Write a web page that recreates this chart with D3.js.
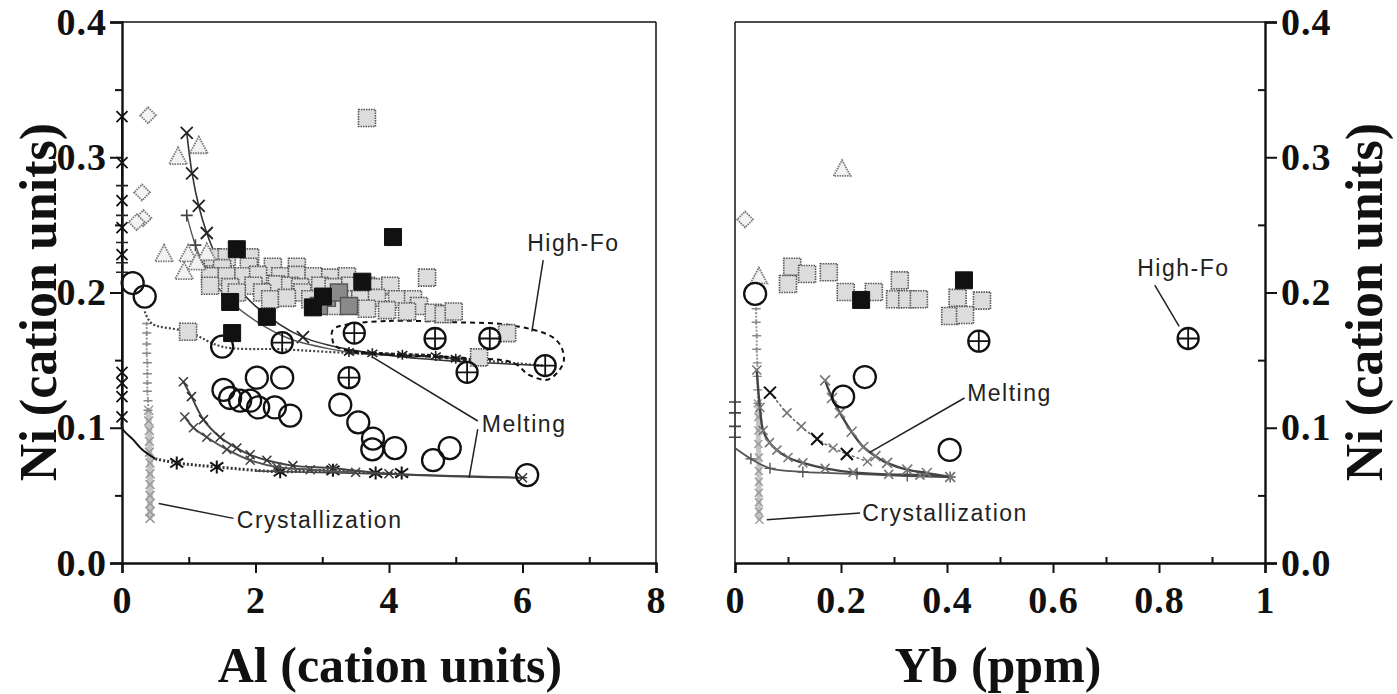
<!DOCTYPE html>
<html>
<head>
<meta charset="utf-8">
<script src="https://cdn.jsdelivr.net/npm/d3@7"></script>
<style>
  body { margin: 0; background: #fff; }
  .tick text { font-family: "Liberation Serif", "Times New Roman", serif; font-weight: bold; font-size: 38px; letter-spacing: 1px; fill: #111; }
  .title { font-family: "Liberation Serif", "Times New Roman", serif; font-weight: bold; font-size: 50px; fill: #111; }
  .ytitle { font-size: 52px; }
  .note { font-family: "Liberation Sans", Arial, sans-serif; font-size: 23px; letter-spacing: 1.5px; fill: #222; }
</style>
</head>
<body>
<script>
// ticks
var alTicks = [0, 2, 4, 6, 8];
var alMinor = [1, 3, 5, 7];
var ybTicks = [0, 0.2, 0.4, 0.6, 0.8, 1];
var ybMinor = [0.1, 0.3, 0.5, 0.7, 0.9];
var niTicks = [0, 0.1, 0.2, 0.3, 0.4];
var niMinor = [0.05, 0.15, 0.25, 0.35];

// ---- left panel: Ni vs Al ----
var leftGraySq = [
  [1.36,0.226],[1.57,0.226],[1.92,0.226],
  [1.50,0.218],[1.90,0.219],[2.26,0.219],[2.62,0.219],
  [1.32,0.212],[1.57,0.212],[1.82,0.212],[2.04,0.213],[2.37,0.212],[2.62,0.213],[2.87,0.212],[3.12,0.211],[3.37,0.212],
  [1.32,0.205],[1.62,0.204],[1.97,0.205],[2.32,0.206],[2.52,0.205],[2.67,0.204],[2.97,0.205],[3.17,0.204],[3.42,0.205],[3.67,0.205],[3.82,0.204],[4.02,0.205],
  [1.72,0.200],[2.10,0.200],[2.70,0.200],
  [2.22,0.195],[2.47,0.196],[2.82,0.195],[3.32,0.195],[3.57,0.195],[3.82,0.196],[4.12,0.195],[4.36,0.195],
  [3.20,0.190],[4.45,0.190],[3.67,0.188],[3.97,0.187],[4.27,0.186],[4.67,0.185],[4.82,0.184],[4.97,0.186],
  [3.67,0.329],[4.57,0.211],[0.99,0.171],[5.77,0.170],[5.35,0.152]
];
var leftDarkSq = [[3.07,0.196],[3.25,0.200],[3.40,0.190],[2.95,0.190]];
var leftBlackSq = [[1.72,0.232],[1.62,0.193],[2.17,0.182],[1.65,0.170],[2.86,0.189],[3.01,0.197],[3.60,0.208],[4.06,0.241]];
var leftTriangles = [[0.84,0.300],[1.15,0.308],[0.63,0.228],[0.99,0.228],[1.27,0.229],[0.93,0.215],[1.12,0.222]];
var leftDiamonds = [[0.39,0.331],[0.30,0.274],[0.32,0.255],[0.22,0.252]];
var leftCircles = [
  [0.16,0.207],[0.34,0.197],[1.50,0.160],
  [1.52,0.128],[1.62,0.122],[1.77,0.120],[1.92,0.120],[2.02,0.137],[2.40,0.137],
  [2.04,0.115],[2.29,0.115],[2.52,0.109],[3.27,0.117],[3.54,0.104],[3.76,0.092],
  [3.75,0.084],[4.09,0.085],[4.66,0.076],[4.91,0.085],[6.07,0.065]
];
var leftHighFo = [[2.40,0.163],[3.48,0.170],[4.69,0.166],[5.51,0.166],[3.40,0.137],[5.17,0.141],[6.34,0.146]];

// model curves (left)
var leftAxisMelt = [[0,0.330],[0,0.296],[0,0.268],[0,0.248],[0,0.228],[0,0.141],[0,0.133],[0,0.123],[0,0.108],[0,0.100],[0.17,0.091],[0.31,0.0835],[0.50,0.077]];
var leftAxisPlus = [[0,0.279],[0,0.257],[0,0.237],[0,0.222],[0,0.215]];
var leftBaseStars = [[0.50,0.077],[0.82,0.074],[1.42,0.071],[2.37,0.0675],[3.16,0.0685],[3.80,0.0665],[4.19,0.0665]];
var leftBaseSolid = [[2.00,0.068],[4.19,0.0655],[6.07,0.063]];
var leftUpperMelt = [[0.97,0.318],[1.05,0.288],[1.15,0.264],[1.27,0.244],[1.40,0.228],[1.60,0.212],[2.00,0.190],[2.71,0.167],[3.50,0.157],[4.50,0.151],[6.30,0.146]];
var leftUpperPlus = [[0.97,0.257],[1.10,0.235],[1.25,0.218],[1.50,0.200],[1.80,0.186],[2.50,0.166],[3.50,0.155]];
var leftLowMelt1 = [[0.92,0.134],[1.04,0.123],[1.22,0.106],[1.47,0.093],[1.72,0.085],[1.92,0.080],[2.17,0.076],[2.56,0.072],[3.16,0.070],[4.00,0.066],[6.00,0.063]];
var leftLowMelt2 = [[0.94,0.108],[1.07,0.100],[1.27,0.093],[1.57,0.084],[1.92,0.076],[2.32,0.071],[2.82,0.069],[3.50,0.067]];
var leftCrystA = [[0.37,0.177],[0.37,0.170],[0.37,0.162],[0.37,0.155],[0.38,0.148],[0.38,0.140],[0.38,0.133],[0.38,0.127],[0.39,0.120],[0.39,0.113]];
var leftCrystB = [[0.40,0.113],[0.40,0.105],[0.41,0.098],[0.41,0.090],[0.41,0.082],[0.42,0.074],[0.42,0.066],[0.42,0.058],[0.42,0.050],[0.42,0.044],[0.42,0.038],[0.42,0.033]];
var leftHighFoTrend = [[0.34,0.186],[0.45,0.177],[0.99,0.171],[1.50,0.160],[2.40,0.158],[3.50,0.155],[4.50,0.153],[6.30,0.146]];
var leftHeavyStars = [[3.40,0.156],[3.75,0.155],[4.20,0.154],[4.70,0.153],[5.00,0.151],[5.30,0.150]];
var leftEnvelope = [[3.25,0.175],[4.00,0.179],[5.00,0.178],[5.80,0.176],[6.45,0.167],[6.62,0.150],[6.40,0.136],[6.10,0.139],[5.80,0.149],[5.00,0.152],[4.00,0.154],[3.30,0.158],[3.15,0.166]];

// ---- right panel: Ni vs Yb ----
var rightGraySq = [[0.108,0.219],[0.136,0.2137],[0.100,0.2063],[0.177,0.215],[0.209,0.2004],[0.262,0.2004],[0.311,0.209],[0.302,0.195],[0.325,0.195],[0.347,0.195],[0.420,0.196],[0.466,0.194],[0.406,0.1826],[0.434,0.1834]];
var rightBlackSq = [[0.238,0.1945],[0.432,0.209]];
var rightTriangles = [[0.202,0.291],[0.045,0.2115]];
var rightDiamonds = [[0.019,0.254]];
var rightCircles = [[0.038,0.199],[0.245,0.1375],[0.204,0.123],[0.405,0.0836]];
var rightHighFo = [[0.46,0.164],[0.855,0.166]];
var rightAxisPlus = [[0,0.119],[0,0.111],[0,0.101],[0,0.093]];
var rightCrystA = [[0.040,0.188],[0.040,0.178],[0.041,0.168],[0.041,0.158],[0.042,0.148],[0.042,0.138],[0.043,0.128],[0.043,0.118]];
var rightCrystB = [[0.043,0.118],[0.044,0.108],[0.044,0.098],[0.044,0.088],[0.045,0.078],[0.045,0.068],[0.045,0.060],[0.045,0.052],[0.045,0.045],[0.045,0.038],[0.046,0.032]];
var rightMelt1 = [[0,0.085],[0.030,0.077],[0.066,0.070],[0.128,0.0673],[0.230,0.0658],[0.325,0.0643],[0.406,0.0636]];
var rightMelt2 = [[0.041,0.1427],[0.047,0.115],[0.053,0.098],[0.065,0.089],[0.079,0.0835],[0.100,0.078],[0.128,0.074],[0.170,0.070],[0.223,0.067],[0.290,0.0655],[0.349,0.065],[0.406,0.0636]];
var rightMelt3 = [[0.066,0.126],[0.098,0.111],[0.125,0.101],[0.155,0.0917],[0.185,0.085],[0.211,0.0806],[0.250,0.075]];
var rightMelt3Big = [[0.066,0.126],[0.155,0.0917],[0.211,0.0806]];
var rightMelt4 = [[0.170,0.135],[0.183,0.122],[0.198,0.111],[0.220,0.097],[0.242,0.0858],[0.265,0.079],[0.287,0.074],[0.325,0.069],[0.362,0.0665],[0.406,0.0636]];

// ---------------------------------------------------
var W = 1397, H = 694;
var svg = d3.select("body").append("svg").attr("width", W).attr("height", H);

var y = d3.scaleLinear().domain([0, 0.4]).range([563, 22]);
var xL = d3.scaleLinear().domain([0, 8]).range([122, 656]);
var xR = d3.scaleLinear().domain([0, 1]).range([735, 1265]);

var smooth = d3.curveCatmullRom.alpha(0.5);

function shape(type, s) {
  var h = s / 2;
  if (type == "square") return "M" + (-h) + "," + (-h) + "h" + s + "v" + s + "h" + (-s) + "Z";
  if (type == "triangle") return "M0," + (-s * 0.55) + "L" + h + "," + (s * 0.38) + "L" + (-h) + "," + (s * 0.38) + "Z";
  if (type == "diamond") return "M0," + (-h) + "L" + h + ",0L0," + h + "L" + (-h) + ",0Z";
  if (type == "x") return "M" + (-h) + "," + (-h) + "L" + h + "," + h + "M" + (-h) + "," + h + "L" + h + "," + (-h);
  if (type == "plus") return "M" + (-h) + ",0H" + h + "M0," + (-h) + "V" + h;
  if (type == "hplus") return "M" + (-h) + ",0H" + h + "M0," + (-h * 0.4) + "V" + (h * 0.4);
  if (type == "star") return "M" + (-h) + "," + (-h * 0.7) + "L" + h + "," + (h * 0.7) + "M" + (-h) + "," + (h * 0.7) + "L" + h + "," + (-h * 0.7) + "M0," + (-h) + "V" + h;
  if (type == "oplus") return "M" + (-h) + ",0H" + h + "M0," + (-h) + "V" + h;
}

function points(g, x, data, type, size, fill, stroke, sw, dash) {
  g.append("g").selectAll("path").data(data).enter().append("path")
    .attr("transform", function(d) { return "translate(" + x(d[0]) + "," + y(d[1]) + ")"; })
    .attr("d", shape(type, size))
    .attr("fill", fill)
    .attr("stroke", stroke)
    .attr("stroke-width", sw)
    .attr("stroke-dasharray", dash || null);
}

function circles(g, x, data, r, cross) {
  var c = g.append("g").selectAll("g").data(data).enter().append("g")
    .attr("transform", function(d) { return "translate(" + x(d[0]) + "," + y(d[1]) + ")"; });
  c.append("circle").attr("r", r).attr("fill", "none").attr("stroke", "#111").attr("stroke-width", 2.3);
  if (cross) c.append("path").attr("d", shape("oplus", 2 * r)).attr("stroke", "#111").attr("stroke-width", 1.8);
}

function curve(g, x, data, stroke, sw, dash, closed) {
  var line = d3.line().x(function(d) { return x(d[0]); }).y(function(d) { return y(d[1]); })
    .curve(closed ? d3.curveCardinalClosed : smooth);
  g.append("path").datum(data).attr("d", line)
    .attr("fill", "none").attr("stroke", stroke).attr("stroke-width", sw)
    .attr("stroke-dasharray", dash || null);
}

function note(g, x, label, tx, ty, leaders, anchor) {
  leaders.forEach(function(l) {
    g.append("line").attr("x1", x(l[0][0])).attr("y1", y(l[0][1]))
      .attr("x2", x(l[1][0])).attr("y2", y(l[1][1]))
      .attr("stroke", "#222").attr("stroke-width", 1.5);
  });
  g.append("text").attr("class", "note").attr("x", x(tx)).attr("y", y(ty))
    .attr("dominant-baseline", "central").attr("text-anchor", anchor || "start").text(label);
}

function frame(g, x, xt, xm, yAxisRight) {
  var x0 = x.range()[0], x1 = x.range()[1];
  // thin box sides
  g.append("line").attr("x1", x0).attr("x2", x1).attr("y1", y(0.4)).attr("y2", y(0.4)).attr("stroke", "#111").attr("stroke-width", 1.5);
  g.append("line").attr("x1", yAxisRight ? x0 : x1).attr("x2", yAxisRight ? x0 : x1).attr("y1", y(0.4)).attr("y2", y(0)).attr("stroke", "#111").attr("stroke-width", 1.5);

  var fmtX = function(d) { return d === 0 ? "0" : (d % 1 === 0 ? d3.format("d")(d) : d3.format(".1f")(d)); };
  g.append("g").attr("transform", "translate(0," + y(0) + ")")
    .call(d3.axisBottom(x).tickValues(xt).tickSize(10).tickPadding(13).tickFormat(fmtX));
  g.append("g").attr("transform", "translate(0," + y(0) + ")")
    .call(d3.axisTop(x).tickValues(xm).tickSize(6).tickFormat(""))
    .select(".domain").remove();

  var ax = yAxisRight ? d3.axisRight(y) : d3.axisLeft(y);
  g.append("g").attr("transform", "translate(" + (yAxisRight ? x1 : x0) + ",0)")
    .call(ax.tickValues(niTicks).tickSize(12).tickPadding(yAxisRight ? 4 : 3).tickFormat(d3.format(".1f")));
  g.append("g").attr("transform", "translate(" + (yAxisRight ? x1 : x0) + ",0)")
    .call(d3.axisLeft(y).tickValues(niMinor).tickSize(7).tickFormat(""))
    .select(".domain").remove();

  g.selectAll(".domain").attr("stroke", "#111").attr("stroke-width", 2.4);
  g.selectAll(".tick line").attr("stroke", "#111").attr("stroke-width", 2);
}

// ---------------- left panel ----------------
var gl = svg.append("g");
frame(gl, xL, alTicks, alMinor, false);

curve(gl, xL, leftCrystB, "#c4c4c4", 6);
points(gl, xL, leftCrystB, "x", 9, "none", "#9a9a9a", 1.5);
curve(gl, xL, leftCrystA, "#999", 2, "2,1.5");
points(gl, xL, leftCrystA, "hplus", 9, "none", "#888", 1.5);

curve(gl, xL, leftAxisMelt, "#111", 2);
points(gl, xL, leftAxisMelt.slice(0, 9), "x", 11, "none", "#111", 1.8);
points(gl, xL, leftAxisPlus, "hplus", 12, "none", "#222", 1.6);
curve(gl, xL, leftBaseStars, "#333", 3, "2,2");
points(gl, xL, leftBaseStars.slice(1), "star", 13, "none", "#111", 2);
curve(gl, xL, leftBaseSolid, "#444", 1.6);

curve(gl, xL, leftUpperMelt, "#333", 1.6);
points(gl, xL, leftUpperMelt.slice(0, 5).concat([leftUpperMelt[7]]), "x", 12, "none", "#222", 1.8);
curve(gl, xL, leftUpperPlus, "#555", 1.4);
points(gl, xL, leftUpperPlus.slice(0, 3), "plus", 12, "none", "#444", 1.6);

curve(gl, xL, leftLowMelt1, "#444", 2);
points(gl, xL, leftLowMelt1, "x", 9, "none", "#333", 1.5);
curve(gl, xL, leftLowMelt2, "#555", 2);
points(gl, xL, leftLowMelt2, "x", 9, "none", "#444", 1.5);

curve(gl, xL, leftHighFoTrend, "#444", 2.2, "2,2");
curve(gl, xL, leftHeavyStars, "#222", 3.5, "4,2");
points(gl, xL, leftHeavyStars, "star", 10, "none", "#222", 1.6);
curve(gl, xL, leftEnvelope, "#111", 2, "5,4", true);

points(gl, xL, leftGraySq, "square", 17, "#dcdcdc", "#555", 1.6, "1.5,1");
points(gl, xL, leftDarkSq, "square", 17, "#8a8a8a", "#555", 1.4);
points(gl, xL, leftBlackSq, "square", 17, "#111", "#111", 1);
points(gl, xL, leftTriangles, "triangle", 18, "#f2f2f2", "#777", 1.8, "1.5,1");
points(gl, xL, leftDiamonds, "diamond", 16, "#f4f4f4", "#777", 1.8, "1.5,1");
circles(gl, xL, leftCircles, 11, false);
circles(gl, xL, leftHighFo, 10.5, true);

note(gl, xL, "High-Fo", 6.07, 0.2366, [[[6.31, 0.224], [6.14, 0.171]]]);
note(gl, xL, "Melting", 5.39, 0.1028, [[[3.76, 0.152], [5.33, 0.105]], [[5.33, 0.099], [5.20, 0.063]]]);
note(gl, xL, "Crystallization", 1.72, 0.032, [[[0.55, 0.044], [1.67, 0.033]]]);

// ---------------- right panel ----------------
var gr = svg.append("g");
frame(gr, xR, ybTicks, ybMinor, true);

curve(gr, xR, rightCrystB, "#c4c4c4", 5);
points(gr, xR, rightCrystB, "x", 8, "none", "#9a9a9a", 1.4);
curve(gr, xR, rightCrystA, "#999", 2, "2,1.5");
points(gr, xR, rightCrystA, "hplus", 9, "none", "#888", 1.4);

curve(gr, xR, rightMelt1, "#555", 1.8);
points(gr, xR, rightMelt1.slice(1), "plus", 11, "none", "#555", 1.4);
points(gr, xR, rightAxisPlus, "hplus", 12, "none", "#444", 1.6);
curve(gr, xR, rightMelt2, "#444", 2.4);
points(gr, xR, rightMelt2, "x", 9, "none", "#777", 1.6);
curve(gr, xR, rightMelt3, "#666", 1.5, "3,2");
points(gr, xR, rightMelt3, "x", 9, "none", "#777", 1.5);
points(gr, xR, rightMelt3Big, "x", 12, "none", "#111", 2);
curve(gr, xR, rightMelt4, "#444", 2.4);
points(gr, xR, rightMelt4, "x", 10, "none", "#777", 1.6);

points(gr, xR, rightGraySq, "square", 17, "#dcdcdc", "#555", 1.6, "1.5,1");
points(gr, xR, rightBlackSq, "square", 17, "#111", "#111", 1);
points(gr, xR, rightTriangles, "triangle", 17, "#f2f2f2", "#777", 1.8, "1.5,1");
points(gr, xR, rightDiamonds, "diamond", 16, "#f4f4f4", "#777", 1.8, "1.5,1");
circles(gr, xR, rightCircles, 11, false);
circles(gr, xR, rightHighFo, 10.5, true);

note(gr, xR, "High-Fo", 0.846, 0.218, [[[0.792, 0.2055], [0.838, 0.175]]], "middle");
note(gr, xR, "Melting", 0.438, 0.1257, [[[0.433, 0.122], [0.255, 0.082]]]);
note(gr, xR, "Crystallization", 0.240, 0.037, [[[0.060, 0.032], [0.236, 0.037]]]);

// axis titles
svg.append("text").attr("class", "title ytitle").attr("transform", "translate(38,302) rotate(-90)")
  .attr("text-anchor", "middle").attr("dominant-baseline", "central").text("Ni (cation units)");
svg.append("text").attr("class", "title ytitle").attr("transform", "translate(1364,302) rotate(-90)")
  .attr("text-anchor", "middle").attr("dominant-baseline", "central").text("Ni (cation units)");
svg.append("text").attr("class", "title").attr("x", 390).attr("y", 665)
  .attr("text-anchor", "middle").attr("dominant-baseline", "central").text("Al (cation units)");
svg.append("text").attr("class", "title").attr("x", 998).attr("y", 665)
  .attr("text-anchor", "middle").attr("dominant-baseline", "central").text("Yb (ppm)");
</script>
</body>
</html>
